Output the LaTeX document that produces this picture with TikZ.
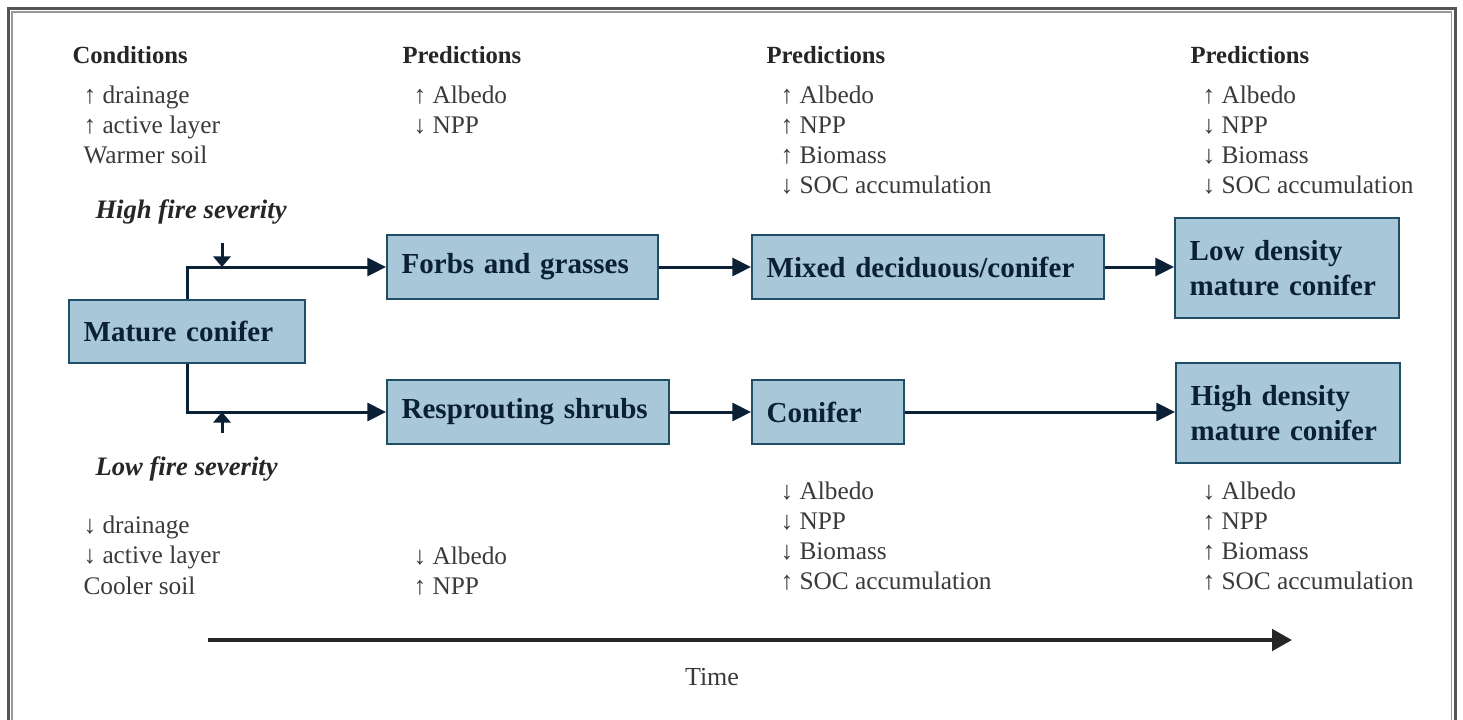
\documentclass[tikz,border=0pt]{standalone}
\usepackage{fontspec}
\setmainfont{Liberation Serif}
\usetikzlibrary{arrows.meta}

\definecolor{stagefill}{HTML}{A8C7D9}
\definecolor{stageedge}{HTML}{1F4E66}
\definecolor{navy}{HTML}{0B1F35}
\definecolor{listgray}{HTML}{3A3A3A}
\definecolor{framegray}{HTML}{555555}

\tikzset{every picture/.style={line width=0.75pt},
  stage/.style={draw=stageedge, fill=stagefill, line width=1.5pt, anchor=north west,
    inner xsep=11pt, inner ysep=0pt, align=left, text=navy,
    font=\bfseries\fontsize{21.75pt}{26.25pt}\selectfont},
  head/.style={anchor=base west, inner sep=0pt, text=black!85,
    font=\bfseries\fontsize{18.5pt}{22pt}\selectfont},
  item/.style={anchor=base west, inner sep=0pt, text=listgray,
    font=\fontsize{19pt}{22pt}\selectfont},
  severity/.style={anchor=base west, inner sep=0pt, text=black!85,
    font=\bfseries\itshape\fontsize{20pt}{24pt}\selectfont},
  flow/.style={draw=navy, line width=2.25pt, -{Triangle[length=14pt,width=13.5pt]}},
  fire/.style={draw=navy, line width=2.25pt, -{Triangle[length=8pt,width=13pt]}},
  timeline/.style={draw=black!85, line width=3pt, -{Triangle[length=15pt,width=16pt]}}
}

\begin{document}
\begin{tikzpicture}[x=0.75pt,y=0.75pt,yscale=-1,xscale=1]

\useasboundingbox (0,0) rectangle (1463,719);
\clip (0,0) rectangle (1463,719);
\fill [white] (0,0) rectangle (1463,719);
\draw [framegray, line width=2pt] (8.5,8.5) rectangle (1455.5,760);
\draw [framegray!60, line width=1pt] (12,12) rectangle (1451.5,760);

\node [stage, text width=155pt, minimum height=47.25pt] (mature) at (68,299) {Mature conifer};
\node [stage, text width=181.25pt, minimum height=48pt] (forbs) at (386,234) {Forbs and grasses};
\node [stage, text width=242pt, minimum height=48pt] (mixed) at (751,234) {Mixed deciduous/conifer};
\node [stage, text width=146pt, minimum height=75pt] (lowdense) at (1174,217) {Low density\\mature conifer};
\node [stage, text width=189.5pt, minimum height=48pt] (shrubs) at (386,379) {Resprouting shrubs};
\node [stage, text width=92pt, minimum height=48pt] (conifer) at (751,379) {Conifer};
\node [stage, text width=146pt, minimum height=75pt] (highdense) at (1175,362) {High density\\mature conifer};

\draw [flow] (mature.north) |- (forbs.west);
\draw [flow] (mature.south) |- (shrubs.west);
\draw [flow] (forbs.east) -- (mixed.west);
\draw [flow] (mixed.east) -- (lowdense.west |- mixed.east);
\draw [flow] (shrubs.east) -- (conifer.west);
\draw [flow] (conifer.east) -- (highdense.west |- conifer.east);

\coordinate (high-top) at (222,243);
\coordinate (low-top) at (222,433);
\draw [fire] (high-top) -- (high-top |- forbs.west);
\draw [fire] (low-top) -- (low-top |- shrubs.west);

\node [severity] (high) at (95,218) {High fire severity};
\node [severity] (low) at (95,475) {Low fire severity};

\node [head] (cond) at (72,63) {Conditions};
\node [head] (pred-a) at (402,63) {Predictions};
\node [head] (pred-b) at (766,63) {Predictions};
\node [head] (pred-c) at (1190,63) {Predictions};

\foreach \txt [count=\i from 0] in {↑ drainage, ↑ active layer, Warmer soil}
  \node [item] (cond-hi-\i) at (83,{103+30.3*\i}) {\txt};
\foreach \txt [count=\i from 0] in {↑ Albedo, ↓ NPP}
  \node [item] (pred-a-hi-\i) at (413,{103+30.3*\i}) {\txt};
\foreach \txt [count=\i from 0] in {↑ Albedo, ↑ NPP, ↑ Biomass, ↓ SOC accumulation}
  \node [item] (pred-b-hi-\i) at (780,{103+30.3*\i}) {\txt};
\foreach \txt [count=\i from 0] in {↑ Albedo, ↓ NPP, ↓ Biomass, ↓ SOC accumulation}
  \node [item] (pred-c-hi-\i) at (1202,{103+30.3*\i}) {\txt};

\foreach \txt [count=\i from 0] in {↓ drainage, ↓ active layer, Cooler soil}
  \node [item] (cond-lo-\i) at (83,{533+30.5*\i}) {\txt};
\foreach \txt [count=\i from 0] in {↓ Albedo, ↑ NPP}
  \node [item] (pred-a-lo-\i) at (413,{564+30.5*\i}) {\txt};
\foreach \txt [count=\i from 0] in {↓ Albedo, ↓ NPP, ↓ Biomass, ↑ SOC accumulation}
  \node [item] (pred-b-lo-\i) at (780,{499+30.3*\i}) {\txt};
\foreach \txt [count=\i from 0] in {↓ Albedo, ↑ NPP, ↑ Biomass, ↑ SOC accumulation}
  \node [item] (pred-c-lo-\i) at (1202,{499+30.3*\i}) {\txt};

\coordinate (t-start) at (208,640);
\coordinate (t-end) at (1292,640);
\draw [timeline] (t-start) -- (t-end);
\node [item, anchor=center, font=\fontsize{19.5pt}{23pt}\selectfont] (time) at (712,677) {Time};

\end{tikzpicture}
\end{document}
